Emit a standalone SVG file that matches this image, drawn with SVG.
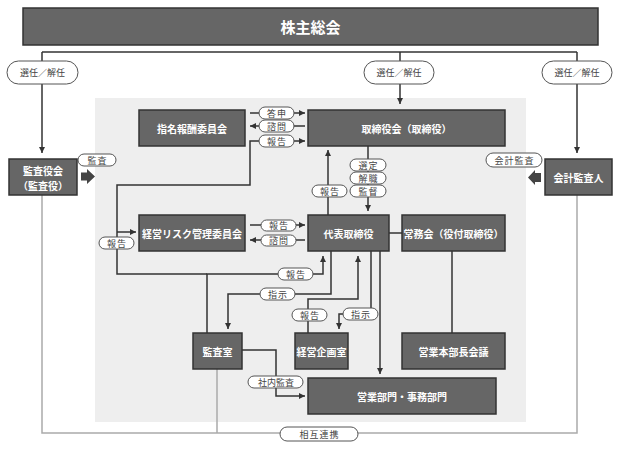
<svg xmlns="http://www.w3.org/2000/svg" width="620" height="450" viewBox="0 0 620 450">
<defs>
<marker id="ah" markerUnits="userSpaceOnUse" markerWidth="7" markerHeight="7" refX="6" refY="3" orient="auto">
<path d="M0,0 L6,3 L0,6 z" fill="#333"/>
</marker>
<style>
.box{fill:#666;stroke:#333;stroke-width:1.5}
.bt{font-family:"Noto Sans CJK JP","Noto Sans",sans-serif;font-size:10px;font-weight:bold;fill:#fff;text-anchor:middle;dominant-baseline:central}
.pill{fill:#fff;stroke:#555;stroke-width:1}
.pt{font-family:"Noto Sans CJK JP","Noto Sans",sans-serif;font-size:9px;fill:#444;text-anchor:middle;dominant-baseline:central;letter-spacing:1px}
.ln{fill:none;stroke:#333;stroke-width:1.5}
.gl{fill:none;stroke:#aaa;stroke-width:1.5}
</style>
</defs>
<rect x="0" y="0" width="620" height="450" fill="#fff"/>
<rect x="95" y="98" width="431" height="324" fill="#eeeeee"/>

<g id="connectors">
<path class="gl" d="M42,195 V433 H577 V195"/>
<path class="gl" d="M217,369 V433"/>
<path class="ln" d="M42,52 H577"/>
<path class="ln" d="M42,52 V153" marker-end="url(#ah)"/>
<path class="ln" d="M400,52 V104" marker-end="url(#ah)"/>
<path class="ln" d="M577,52 V153" marker-end="url(#ah)"/>
<path class="ln" d="M250,113 H305" marker-end="url(#ah)"/>
<path class="ln" d="M305,126 H250" marker-end="url(#ah)"/>
<path class="ln" d="M207,333 V274 H323 V256" marker-end="url(#ah)"/>
<path class="ln" d="M207,274 H117 V185 H250 V141 H305" marker-end="url(#ah)"/>
<path class="ln" d="M117,232 H136" marker-end="url(#ah)"/>
<path class="ln" d="M250,225 H305" marker-end="url(#ah)"/>
<path class="ln" d="M305,240 H250" marker-end="url(#ah)"/>
<path class="ln" d="M328,215 V150" marker-end="url(#ah)"/>
<path class="ln" d="M368,146 V211" marker-end="url(#ah)"/>
<path class="ln" d="M389,233 H402"/>
<path class="ln" d="M452,251 V333"/>
<path class="ln" d="M331,251 V294 H228 V329" marker-end="url(#ah)"/>
<path class="ln" d="M308,333 V299 H358 V256" marker-end="url(#ah)"/>
<path class="ln" d="M371,251 V314 H339 V329" marker-end="url(#ah)"/>
<path class="ln" d="M380,251 V374" marker-end="url(#ah)"/>
<path class="ln" d="M242,350 H276 V396 H305" marker-end="url(#ah)"/>
<polygon points="81,172.5 87,172.5 87,169 95,176.5 87,184 87,180.5 81,180.5" fill="#444"/>
<polygon points="541,173 535,173 535,170 528,177.5 535,185 535,182 541,182" fill="#444"/>
</g>

<g id="labels">
<rect class="pill" x="7" y="61" width="71" height="23" rx="11.5"/><text class="pt" x="42.5" y="72.5" style="letter-spacing:0">選任／解任</text>
<rect class="pill" x="364" y="61" width="70" height="23" rx="11.5"/><text class="pt" x="399" y="72.5" style="letter-spacing:0">選任／解任</text>
<rect class="pill" x="542" y="61" width="70" height="23" rx="11.5"/><text class="pt" x="577" y="72.5" style="letter-spacing:0">選任／解任</text>
<rect class="pill" x="259" y="107" width="35" height="12" rx="6"/><text class="pt" x="277" y="113">答申</text>
<rect class="pill" x="259" y="120" width="35" height="12" rx="6"/><text class="pt" x="277" y="126">諮問</text>
<rect class="pill" x="259" y="135" width="35" height="12" rx="6"/><text class="pt" x="277" y="141">報告</text>
<rect class="pill" x="78" y="154" width="38" height="12" rx="6"/><text class="pt" x="97.5" y="160">監査</text>
<rect class="pill" x="486" y="153" width="56" height="14" rx="7"/><text class="pt" x="514.5" y="160">会計監査</text>
<rect class="pill" x="350" y="159" width="36" height="12" rx="6"/><text class="pt" x="368.5" y="165">選定</text>
<rect class="pill" x="350" y="172" width="36" height="12" rx="6"/><text class="pt" x="368.5" y="178">解職</text>
<rect class="pill" x="350" y="185" width="36" height="12" rx="6"/><text class="pt" x="368.5" y="191">監督</text>
<rect class="pill" x="312" y="185" width="35" height="12" rx="6"/><text class="pt" x="330" y="191">報告</text>
<rect class="pill" x="99" y="237" width="35" height="12" rx="6"/><text class="pt" x="117" y="243">報告</text>
<rect class="pill" x="261" y="220" width="35" height="11" rx="5.5"/><text class="pt" x="279" y="225.5">報告</text>
<rect class="pill" x="261" y="235" width="35" height="11" rx="5.5"/><text class="pt" x="279" y="240.5">諮問</text>
<rect class="pill" x="278" y="268" width="35" height="12" rx="6"/><text class="pt" x="296" y="274">報告</text>
<rect class="pill" x="260" y="288" width="35" height="12" rx="6"/><text class="pt" x="278" y="294">指示</text>
<rect class="pill" x="292" y="309" width="35" height="12" rx="6"/><text class="pt" x="310" y="315">報告</text>
<rect class="pill" x="343" y="308" width="35" height="12" rx="6"/><text class="pt" x="361" y="314">指示</text>
<rect class="pill" x="248" y="376" width="55" height="12" rx="6"/><text class="pt" x="276" y="382" style="letter-spacing:0">社内監査</text>
<rect class="pill" x="280" y="427" width="78" height="14" rx="7"/><text class="pt" x="319.5" y="434">相互連携</text>
</g>

<g id="n-shareholders"><rect class="box" x="23" y="8" width="575" height="37"/><text class="bt" x="310.5" y="26.5" style="font-size:15px">株主総会</text></g>
<g id="n-nomination"><rect class="box" x="139" y="110" width="106" height="36"/><text class="bt" x="192" y="128">指名報酬委員会</text></g>
<g id="n-board"><rect class="box" x="308" y="110" width="197" height="36"/><text class="bt" x="406.5" y="128">取締役会（取締役）</text></g>
<g id="n-auditors"><rect class="box" x="9" y="159" width="68" height="36"/><text class="bt" x="43" y="170">監査役会</text><text class="bt" x="43" y="185">（監査役）</text></g>
<g id="n-accounting"><rect class="box" x="545" y="159" width="67" height="36"/><text class="bt" x="578.5" y="177">会計監査人</text></g>
<g id="n-risk"><rect class="box" x="139" y="215" width="106" height="36"/><text class="bt" x="192" y="233">経営リスク管理委員会</text></g>
<g id="n-ceo"><rect class="box" x="308" y="215" width="81" height="36"/><text class="bt" x="348.5" y="233">代表取締役</text></g>
<g id="n-exec"><rect class="box" x="402" y="215" width="103" height="36"/><text class="bt" x="453.5" y="233">常務会（役付取締役）</text></g>
<g id="n-audit-office"><rect class="box" x="193" y="333" width="49" height="36"/><text class="bt" x="217.5" y="351">監査室</text></g>
<g id="n-planning"><rect class="box" x="295" y="333" width="53" height="36"/><text class="bt" x="321.5" y="351">経営企画室</text></g>
<g id="n-sales-meeting"><rect class="box" x="402" y="333" width="103" height="36"/><text class="bt" x="453.5" y="351">営業本部長会議</text></g>
<g id="n-divisions"><rect class="box" x="308" y="378" width="188" height="36"/><text class="bt" x="402" y="396">営業部門・事務部門</text></g>
</svg>
